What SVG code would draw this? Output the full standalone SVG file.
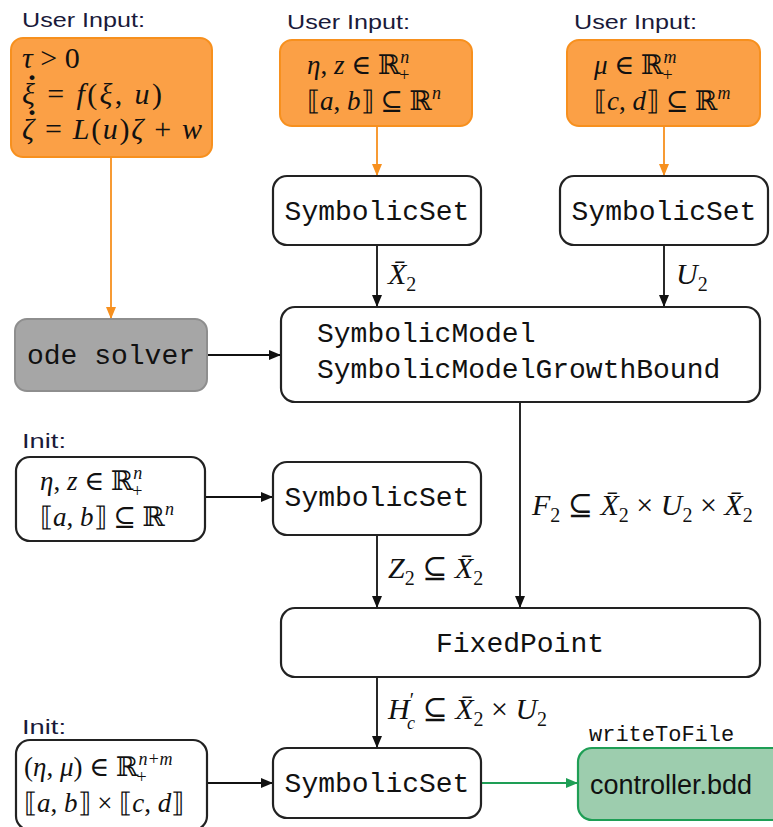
<svg xmlns="http://www.w3.org/2000/svg" width="773" height="827" viewBox="0 0 773 827">
<style>
.lbl{font-family:"Liberation Sans","DejaVu Sans",sans-serif;font-size:21px;fill:#1a1a3a}
.mono{font-family:"Liberation Mono","DejaVu Sans Mono",monospace;font-size:28px;fill:#111}
.math{font-family:"Liberation Serif","DejaVu Serif",serif;font-size:27px;font-style:italic;fill:#111}
.em{font-size:30px}
.up{font-style:normal}
.sm{font-size:18px}
.sme{font-size:20px}
.dot{font-family:"Liberation Serif","DejaVu Serif",serif;font-size:30px;font-weight:bold;fill:#111}
.box{fill:#fff;stroke:#222;stroke-width:2.2}
.obox{fill:#FBA046;stroke:#F7901E;stroke-width:2}
.gbox{fill:#A6A6A6;stroke:#8E8E8E;stroke-width:2}
.grbox{fill:#9DCDAE;stroke:#1E9E55;stroke-width:2.2}
.bl{stroke:#111;stroke-width:1.8;fill:none}
.or{stroke:#F7901E;stroke-width:1.8;fill:none}
.gr{stroke:#1E9E55;stroke-width:1.8;fill:none}
</style>
<defs>
<marker id="ab" markerWidth="12" markerHeight="10" refX="11" refY="5" orient="auto" markerUnits="userSpaceOnUse"><path d="M0,0 L12,5 L0,10 z" fill="#111"/></marker>
<marker id="ao" markerWidth="12" markerHeight="10" refX="11" refY="5" orient="auto" markerUnits="userSpaceOnUse"><path d="M0,0 L12,5 L0,10 z" fill="#F7901E"/></marker>
<marker id="ag" markerWidth="12" markerHeight="10" refX="11" refY="5" orient="auto" markerUnits="userSpaceOnUse"><path d="M0,0 L12,5 L0,10 z" fill="#1E9E55"/></marker>
</defs>

<g id="connectors">
<line class="or" x1="111" y1="157" x2="111" y2="318" marker-end="url(#ao)"/>
<line class="or" x1="377" y1="126" x2="377" y2="175" marker-end="url(#ao)"/>
<line class="or" x1="664" y1="126" x2="664" y2="175" marker-end="url(#ao)"/>
<line class="bl" x1="377" y1="245" x2="377" y2="306" marker-end="url(#ab)"/>
<line class="bl" x1="664" y1="245" x2="664" y2="306" marker-end="url(#ab)"/>
<line class="bl" x1="207" y1="355" x2="280" y2="355" marker-end="url(#ab)"/>
<line class="bl" x1="520" y1="402" x2="520" y2="607" marker-end="url(#ab)"/>
<line class="bl" x1="205" y1="497" x2="272" y2="497" marker-end="url(#ab)"/>
<line class="bl" x1="377" y1="535" x2="377" y2="607" marker-end="url(#ab)"/>
<line class="bl" x1="377" y1="677" x2="377" y2="747" marker-end="url(#ab)"/>
<line class="bl" x1="207" y1="783" x2="272" y2="783" marker-end="url(#ab)"/>
<line class="gr" x1="481" y1="783" x2="577" y2="783" marker-end="url(#ag)"/>
<text class="math em" x="388" y="284">X̄<tspan class="up sme" dy="7">2</tspan></text>
<text class="math em" x="676" y="284">U<tspan class="up sme" dy="7">2</tspan></text>
<text class="math em" x="532" y="515">F<tspan class="up sme" dy="7">2</tspan><tspan class="up" dy="-7"> ⊆ </tspan>X̄<tspan class="up sme" dy="7">2</tspan><tspan class="up" dy="-7"> × </tspan>U<tspan class="up sme" dy="7">2</tspan><tspan class="up" dy="-7"> × </tspan>X̄<tspan class="up sme" dy="7">2</tspan></text>
<text class="math em" x="388" y="578">Z<tspan class="up sme" dy="7">2</tspan><tspan class="up" dy="-7"> ⊆ </tspan>X̄<tspan class="up sme" dy="7">2</tspan></text>
<text class="math em" x="388" y="719">H<tspan class="up sme" dy="-12">′</tspan><tspan class="sm" dx="-7" dy="22">c</tspan><tspan class="up" dy="-10"> ⊆ </tspan>X̄<tspan class="up sme" dy="7">2</tspan><tspan class="up" dy="-7"> × </tspan>U<tspan class="up sme" dy="7">2</tspan></text>
</g>

<g id="user-input-dynamics">
<text class="lbl" x="22" y="27" textLength="123" lengthAdjust="spacingAndGlyphs">User Input:</text>
<rect class="obox" x="11" y="38" width="201" height="119" rx="12"/>
<text class="math em" x="22" y="68">τ<tspan class="up"> &gt; 0</tspan></text>
<text class="math em" x="22" y="104" textLength="140">ξ<tspan class="up"> = </tspan>f<tspan class="up">(</tspan>ξ<tspan class="up">, </tspan>u<tspan class="up">)</tspan></text>
<text class="dot" x="32" y="87" text-anchor="middle">·</text>
<text class="math em" x="22" y="139" textLength="180">ζ<tspan class="up"> = </tspan>L<tspan class="up">(</tspan>u<tspan class="up">)</tspan>ζ<tspan class="up"> + </tspan>w</text>
<text class="dot" x="32" y="122" text-anchor="middle">·</text>
</g>

<g id="user-input-state">
<text class="lbl" x="287" y="29" textLength="123" lengthAdjust="spacingAndGlyphs">User Input:</text>
<rect class="obox" x="280" y="40" width="192" height="86" rx="12"/>
<text class="math" x="307" y="74">η<tspan class="up">, </tspan>z<tspan class="up"> ∈ ℝ</tspan><tspan class="sm" dy="-11">n</tspan><tspan class="up sm" dx="-10" dy="18">+</tspan></text>
<text class="math" x="307" y="110"><tspan class="up">⟦</tspan>a<tspan class="up">, </tspan>b<tspan class="up">⟧ ⊆ ℝ</tspan><tspan class="sm" dy="-11">n</tspan></text>
</g>

<g id="user-input-input">
<text class="lbl" x="574" y="29" textLength="123" lengthAdjust="spacingAndGlyphs">User Input:</text>
<rect class="obox" x="567" y="40" width="193" height="86" rx="12"/>
<text class="math" x="594" y="74">μ<tspan class="up"> ∈ ℝ</tspan><tspan class="sm" dy="-11">m</tspan><tspan class="up sm" dx="-14" dy="18">+</tspan></text>
<text class="math" x="594" y="110"><tspan class="up">⟦</tspan>c<tspan class="up">, </tspan>d<tspan class="up">⟧ ⊆ ℝ</tspan><tspan class="sm" dy="-11">m</tspan></text>
</g>

<g id="symbolicset-state">
<rect class="box" x="273" y="176" width="208" height="69" rx="14"/>
<text class="mono" x="377" y="220" text-anchor="middle">SymbolicSet</text>
</g>

<g id="symbolicset-input">
<rect class="box" x="560" y="176" width="208" height="69" rx="14"/>
<text class="mono" x="664" y="220" text-anchor="middle">SymbolicSet</text>
</g>

<g id="ode-solver">
<rect class="gbox" x="15" y="319" width="192" height="72" rx="12"/>
<text class="mono" x="111" y="364" text-anchor="middle">ode solver</text>
</g>

<g id="symbolic-model">
<rect class="box" x="281" y="307" width="479" height="95" rx="14"/>
<text class="mono" x="317" y="342">SymbolicModel</text>
<text class="mono" x="317" y="378">SymbolicModelGrowthBound</text>
</g>

<g id="init-target">
<text class="lbl" x="22" y="448" textLength="44" lengthAdjust="spacingAndGlyphs">Init:</text>
<rect class="box" x="16" y="457" width="189" height="84" rx="14"/>
<text class="math" x="40" y="490">η<tspan class="up">, </tspan>z<tspan class="up"> ∈ ℝ</tspan><tspan class="sm" dy="-11">n</tspan><tspan class="up sm" dx="-10" dy="18">+</tspan></text>
<text class="math" x="40" y="526"><tspan class="up">⟦</tspan>a<tspan class="up">, </tspan>b<tspan class="up">⟧ ⊆ ℝ</tspan><tspan class="sm" dy="-11">n</tspan></text>
</g>

<g id="symbolicset-target">
<rect class="box" x="273" y="462" width="208" height="73" rx="14"/>
<text class="mono" x="377" y="506" text-anchor="middle">SymbolicSet</text>
</g>

<g id="fixed-point">
<rect class="box" x="281" y="608" width="479" height="69" rx="14"/>
<text class="mono" x="520" y="652" text-anchor="middle">FixedPoint</text>
</g>

<g id="init-controller">
<text class="lbl" x="22" y="734" textLength="44" lengthAdjust="spacingAndGlyphs">Init:</text>
<rect class="box" x="16" y="740" width="191" height="90" rx="14"/>
<text class="math" x="24" y="776"><tspan class="up">(</tspan>η<tspan class="up">, </tspan>μ<tspan class="up">) ∈ ℝ</tspan><tspan class="sm" dy="-11">n+m</tspan><tspan class="up sm" dx="-36" dy="18">+</tspan></text>
<text class="math" x="24" y="812"><tspan class="up">⟦</tspan>a<tspan class="up">, </tspan>b<tspan class="up">⟧ × ⟦</tspan>c<tspan class="up">, </tspan>d<tspan class="up">⟧</tspan></text>
</g>

<g id="symbolicset-controller">
<rect class="box" x="273" y="748" width="208" height="70" rx="14"/>
<text class="mono" x="377" y="792" text-anchor="middle">SymbolicSet</text>
</g>

<g id="controller-bdd">
<text class="mono" x="589" y="741" style="font-size:22px">writeToFile</text>
<rect class="grbox" x="578" y="748" width="215" height="72" rx="14"/>
<text x="590" y="794" style="font-family:'Liberation Sans','DejaVu Sans',sans-serif;font-size:27px;fill:#111">controller.bdd</text>
</g>
</svg>
